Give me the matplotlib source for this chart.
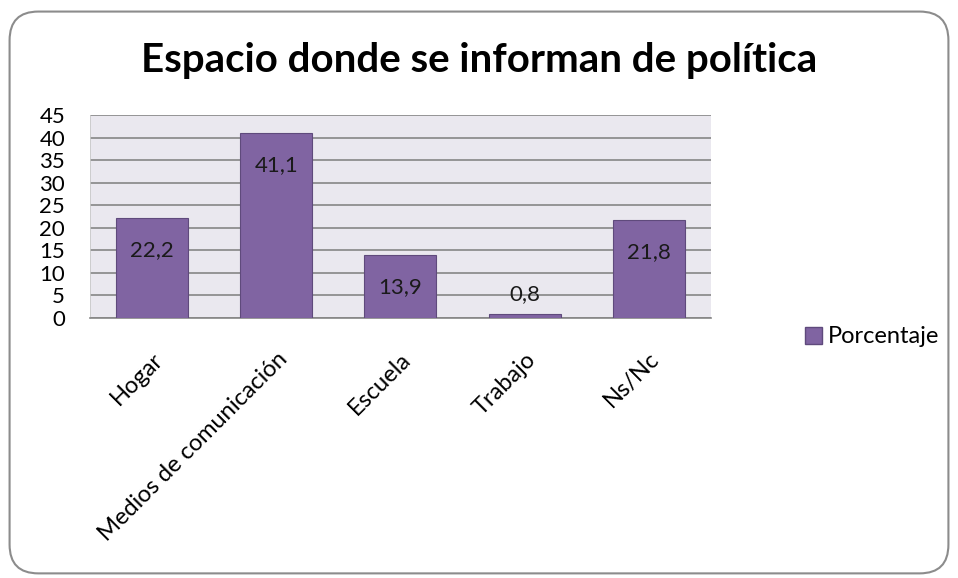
import matplotlib.pyplot as plt
from matplotlib.patches import FancyBboxPatch, Patch

# Data
categorias = ["Hogar", "Medios de comunicación", "Escuela", "Trabajo", "Ns/Nc"]
porcentajes = [22.2, 41.1, 13.9, 0.8, 21.8]
etiquetas = ["22,2", "41,1", "13,9", "0,8", "21,8"]
yticks = [0, 5, 10, 15, 20, 25, 30, 35, 40, 45]

purple = "#8064A2"
plt.rcParams["font.family"] = ["Lato", "DejaVu Sans"]
fs = 16

fig = plt.figure(figsize=(9.58, 5.78), dpi=100)

# rounded outer frame
frame = FancyBboxPatch((0.010, 0.008), 0.980, 0.972,
                       boxstyle="round,pad=0,rounding_size=0.03",
                       transform=fig.transFigure, facecolor="white",
                       edgecolor="#8c8c8c", linewidth=1.5, mutation_aspect=958 / 578,
                       zorder=-10)
fig.patches.append(frame)

ax = fig.add_axes([0.094, 0.450, 0.648, 0.351])
ax.set_facecolor("#EAE8EF")

x = range(len(categorias))
ax.bar(x, porcentajes, width=0.58, color=purple, edgecolor="#5f4a7c", linewidth=0.8, zorder=3)

# value labels (inside end, except the tiny one)
for i, (v, lab) in enumerate(zip(porcentajes, etiquetas)):
    dy = -32 if v > 5 else 20
    ax.annotate(lab, (i, v), xytext=(0, dy), textcoords="offset pixels",
                ha="center", va="center", fontsize=fs, color="#1a1a1a", zorder=4)

ax.set_xlim(-0.5, len(categorias) - 0.5)
ax.set_ylim(0, 45)
ax.set_yticks(yticks)
ax.set_yticklabels([str(t) for t in yticks], fontsize=fs)
ax.yaxis.grid(True, color="#868686", linewidth=1.2, zorder=0)
ax.set_axisbelow(True)
ax.tick_params(axis="both", length=0)
ax.tick_params(axis="y", pad=18)
ax.tick_params(axis="x", pad=22)

ax.set_xticks(list(x))
ax.set_xticklabels(categorias, rotation=45, ha="right", va="top", rotation_mode="anchor", fontsize=17)

for s in ["top", "right"]:
    ax.spines[s].set_visible(False)
ax.spines["bottom"].set_color("#868686")
ax.spines["bottom"].set_linewidth(1.2)
ax.spines["left"].set_color("#c8c8c8")
ax.spines["left"].set_linewidth(0.6)

fig.text(0.5, 0.895, "Espacio donde se informan de política", ha="center", va="center",
         fontsize=29, fontweight="bold")

handle = Patch(facecolor=purple, edgecolor="#5f4a7c", label="Porcentaje")
fig.legend(handles=[handle], loc="center left", bbox_to_anchor=(0.840, 0.417),
           frameon=False, fontsize=17, handlelength=0.75, handleheight=0.75,
           handletextpad=0.25, borderpad=0, borderaxespad=0)

fig.savefig("out.png", dpi=100)
